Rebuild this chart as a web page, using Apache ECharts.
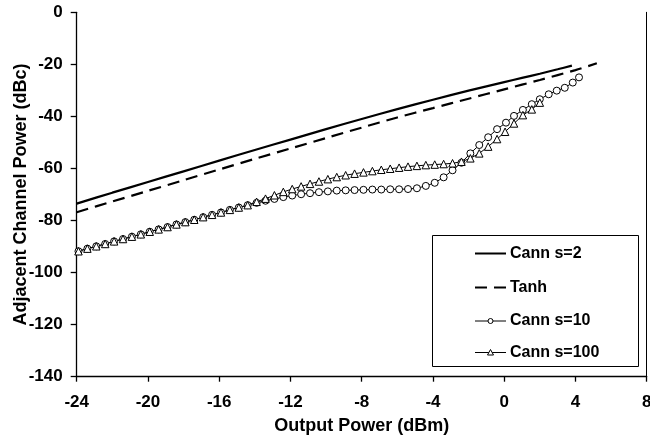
<!DOCTYPE html>
<html>
<head>
<meta charset="utf-8">
<script src="https://cdn.jsdelivr.net/npm/echarts@6/dist/echarts.min.js"></script>
<style>
html,body{margin:0;padding:0;background:#fff;}
#chart{width:650px;height:438px;}
</style>
</head>
<body>
<div id="chart"></div>
<script>
// ---- data ----
const xTicks = [-24, -20, -16, -12, -8, -4, 0, 4, 8];
const yTicks = [0, -20, -40, -60, -80, -100, -120, -140];

const seriesNames = ['Cann s=2', 'Tanh', 'Cann s=10', 'Cann s=100'];

const cann2X = [-24, -22, -20, -18, -16, -14, -12, -10, -8, -6, -4, -2, 0, 1, 2, 3, 3.8];
const cann2Y = [-73.5, -69.3, -65.2, -61.1, -57.0, -52.9, -48.9, -44.9, -41.0, -37.2, -33.6, -30.1, -26.8, -25.2, -23.6, -21.9, -20.5];

const tanhX = [-24, -22, -20, -18, -16, -14, -12, -10, -8, -6, -4, -2, 0, 2, 4, 5.2];
const tanhY = [-76.8, -72.7, -68.6, -64.5, -60.4, -56.3, -52.3, -48.3, -44.3, -40.4, -36.8, -33.2, -29.6, -26.0, -22.2, -19.6];

const cann10X = [-23.9, -23.4, -22.9, -22.4, -21.9, -21.4, -20.9, -20.4, -19.9, -19.4,
  -18.9, -18.4, -17.9, -17.4, -16.9, -16.4, -15.9, -15.4, -14.9, -14.4,
  -13.9, -13.4, -12.9, -12.4, -11.9, -11.4, -10.9, -10.4, -9.9, -9.4,
  -8.9, -8.4, -7.9, -7.4, -6.9, -6.4, -5.9, -5.4, -4.9, -4.4,
  -3.9, -3.4, -2.9, -2.4, -1.9, -1.4, -0.9, -0.4, 0.1, 0.55,
  1.05, 1.55, 2.0, 2.5, 2.95, 3.4, 3.85, 4.2];
const cann10Y = [-91.8, -90.8, -89.9, -89.0, -88.0, -87.1, -86.2, -85.3, -84.3, -83.4,
  -82.5, -81.5, -80.6, -79.7, -78.7, -77.8, -76.9, -75.9, -75.0, -74.1,
  -73.2, -72.4, -71.7, -71.0, -70.4, -69.9, -69.5, -69.1, -68.8, -68.5,
  -68.4, -68.3, -68.2, -68.1, -68.1, -68.0, -68.0, -67.9, -67.6, -66.7,
  -65.5, -63.4, -60.7, -57.8, -54.2, -51.0, -48.0, -44.9, -42.4, -39.8,
  -37.5, -35.3, -33.4, -31.5, -30.1, -29.0, -27.0, -25.0];

const cann100X = [-23.9, -23.4, -22.9, -22.4, -21.9, -21.4, -20.9, -20.4, -19.9, -19.4,
  -18.9, -18.4, -17.9, -17.4, -16.9, -16.4, -15.9, -15.4, -14.9, -14.4,
  -13.9, -13.4, -12.9, -12.4, -11.9, -11.4, -10.9, -10.4, -9.9, -9.4,
  -8.9, -8.4, -7.9, -7.4, -6.9, -6.4, -5.9, -5.4, -4.9, -4.4,
  -3.9, -3.4, -2.9, -2.4, -1.9, -1.4, -0.9, -0.4, 0.05, 0.55,
  1.05, 1.55, 2.0];
const cann100Y = [-91.8, -90.8, -89.9, -89.0, -88.0, -87.1, -86.2, -85.3, -84.3, -83.4,
  -82.5, -81.5, -80.6, -79.7, -78.7, -77.8, -76.9, -75.9, -75.0, -74.1,
  -72.8, -71.6, -70.3, -69.0, -67.9, -66.9, -65.9, -65.0, -64.1, -63.3,
  -62.6, -62.0, -61.5, -61.0, -60.5, -60.1, -59.7, -59.3, -59.0, -58.7,
  -58.5, -58.3, -58.0, -57.4, -56.1, -54.2, -51.6, -48.7, -45.9, -42.7,
  -39.5, -37.3, -34.7];

// ---- build ----
function pairs(xs, ys) { return xs.map((x, i) => [x, ys[i]]); }

const FONT = 'Arial, "Liberation Sans", sans-serif';
const chart = echarts.init(document.getElementById('chart'), null, {renderer: 'canvas'});

const legendLeft = 432.5, legendTop = 235.5, legendW = 206, legendH = 131;
const rowY = [253.5, 287.5, 321, 352.5];
const lx0 = 475, lx1 = 506, tx = 510;

const legendGraphics = [
  {type: 'rect', shape: {x: legendLeft, y: legendTop, width: legendW, height: legendH},
   style: {fill: '#fff', stroke: '#000', lineWidth: 1}, z: 100},
  {type: 'line', shape: {x1: lx0, y1: rowY[0], x2: lx1, y2: rowY[0]}, style: {stroke: '#000', lineWidth: 2}, z: 101},
  {type: 'line', shape: {x1: lx0, y1: rowY[1], x2: lx1, y2: rowY[1]}, style: {stroke: '#000', lineWidth: 2, lineDash: [12, 7]}, z: 101},
  {type: 'line', shape: {x1: lx0, y1: rowY[2], x2: lx1, y2: rowY[2]}, style: {stroke: '#000', lineWidth: 1}, z: 101},
  {type: 'circle', shape: {cx: (lx0 + lx1) / 2, cy: rowY[2], r: 2.5}, style: {fill: '#fff', stroke: '#000', lineWidth: 1}, z: 102},
  {type: 'line', shape: {x1: lx0, y1: rowY[3], x2: lx1, y2: rowY[3]}, style: {stroke: '#000', lineWidth: 1}, z: 101},
  {type: 'polygon', shape: {points: [[(lx0 + lx1) / 2, rowY[3] - 3], [(lx0 + lx1) / 2 + 3, rowY[3] + 2.5], [(lx0 + lx1) / 2 - 3, rowY[3] + 2.5]]},
   style: {fill: '#fff', stroke: '#000', lineWidth: 1}, z: 102}
];
seriesNames.forEach((n, i) => {
  legendGraphics.push({type: 'text', x: tx, y: rowY[i], z: 102,
    style: {text: n, font: 'bold 16px ' + FONT, fill: '#000', verticalAlign: 'middle'}});
});

const axisLabelStyle = {color: '#000', fontWeight: 'bold', fontSize: 17, fontFamily: FONT};

chart.setOption({
  animation: false,
  backgroundColor: '#fff',
  grid: {left: 76.7, right: 3.3, top: 12.3, bottom: 61.3, containLabel: false, outerBoundsMode: 'none'},
  xAxis: {
    type: 'value', min: xTicks[0], max: xTicks[xTicks.length - 1], interval: 4,
    name: 'Output Power (dBm)', nameLocation: 'middle', nameGap: 40, nameMoveOverlap: false,
    nameTextStyle: {color: '#000', fontWeight: 'bold', fontSize: 18, fontFamily: FONT},
    axisLine: {show: true, onZero: false, lineStyle: {color: '#000', width: 1.3}},
    axisTick: {show: true, length: 5, lineStyle: {color: '#000', width: 1.3}},
    axisLabel: Object.assign({margin: 17}, axisLabelStyle),
    splitLine: {show: false}
  },
  yAxis: [{
    type: 'value', min: yTicks[yTicks.length - 1], max: yTicks[0], interval: 20,
    name: 'Adjacent Channel Power (dBc)', nameLocation: 'middle', nameGap: 47, nameMoveOverlap: false,
    nameTextStyle: {color: '#000', fontWeight: 'bold', fontSize: 18, fontFamily: FONT},
    axisLine: {show: true, onZero: false, lineStyle: {color: '#000', width: 1.3}},
    axisTick: {show: true, length: 6, lineStyle: {color: '#000', width: 1.3}},
    axisLabel: Object.assign({margin: 14}, axisLabelStyle),
    splitLine: {show: false}
  }, {
    type: 'value', position: 'right', min: yTicks[yTicks.length - 1], max: yTicks[0], interval: 20,
    axisLine: {show: true, onZero: false, lineStyle: {color: '#000', width: 1}},
    axisTick: {show: false}, axisLabel: {show: false}, splitLine: {show: false}
  }],
  graphic: legendGraphics,
  series: [
    {name: seriesNames[0], type: 'line', data: pairs(cann2X, cann2Y), smooth: 0.3, symbol: 'none',
     lineStyle: {color: '#000', width: 2.2}},
    {name: seriesNames[1], type: 'line', data: pairs(tanhX, tanhY), smooth: 0.3, symbol: 'none',
     lineStyle: {color: '#000', width: 2.2, type: [12, 7]}},
    {name: seriesNames[2], type: 'line', data: pairs(cann10X, cann10Y), symbol: 'circle', symbolSize: 7,
     lineStyle: {color: '#000', width: 1},
     itemStyle: {color: '#fff', borderColor: '#000', borderWidth: 1}},
    {name: seriesNames[3], type: 'line', data: pairs(cann100X, cann100Y), symbol: 'triangle', symbolSize: 7.5,
     lineStyle: {color: '#000', width: 1},
     itemStyle: {color: '#fff', borderColor: '#000', borderWidth: 1}}
  ]
});
</script>
</body>
</html>
